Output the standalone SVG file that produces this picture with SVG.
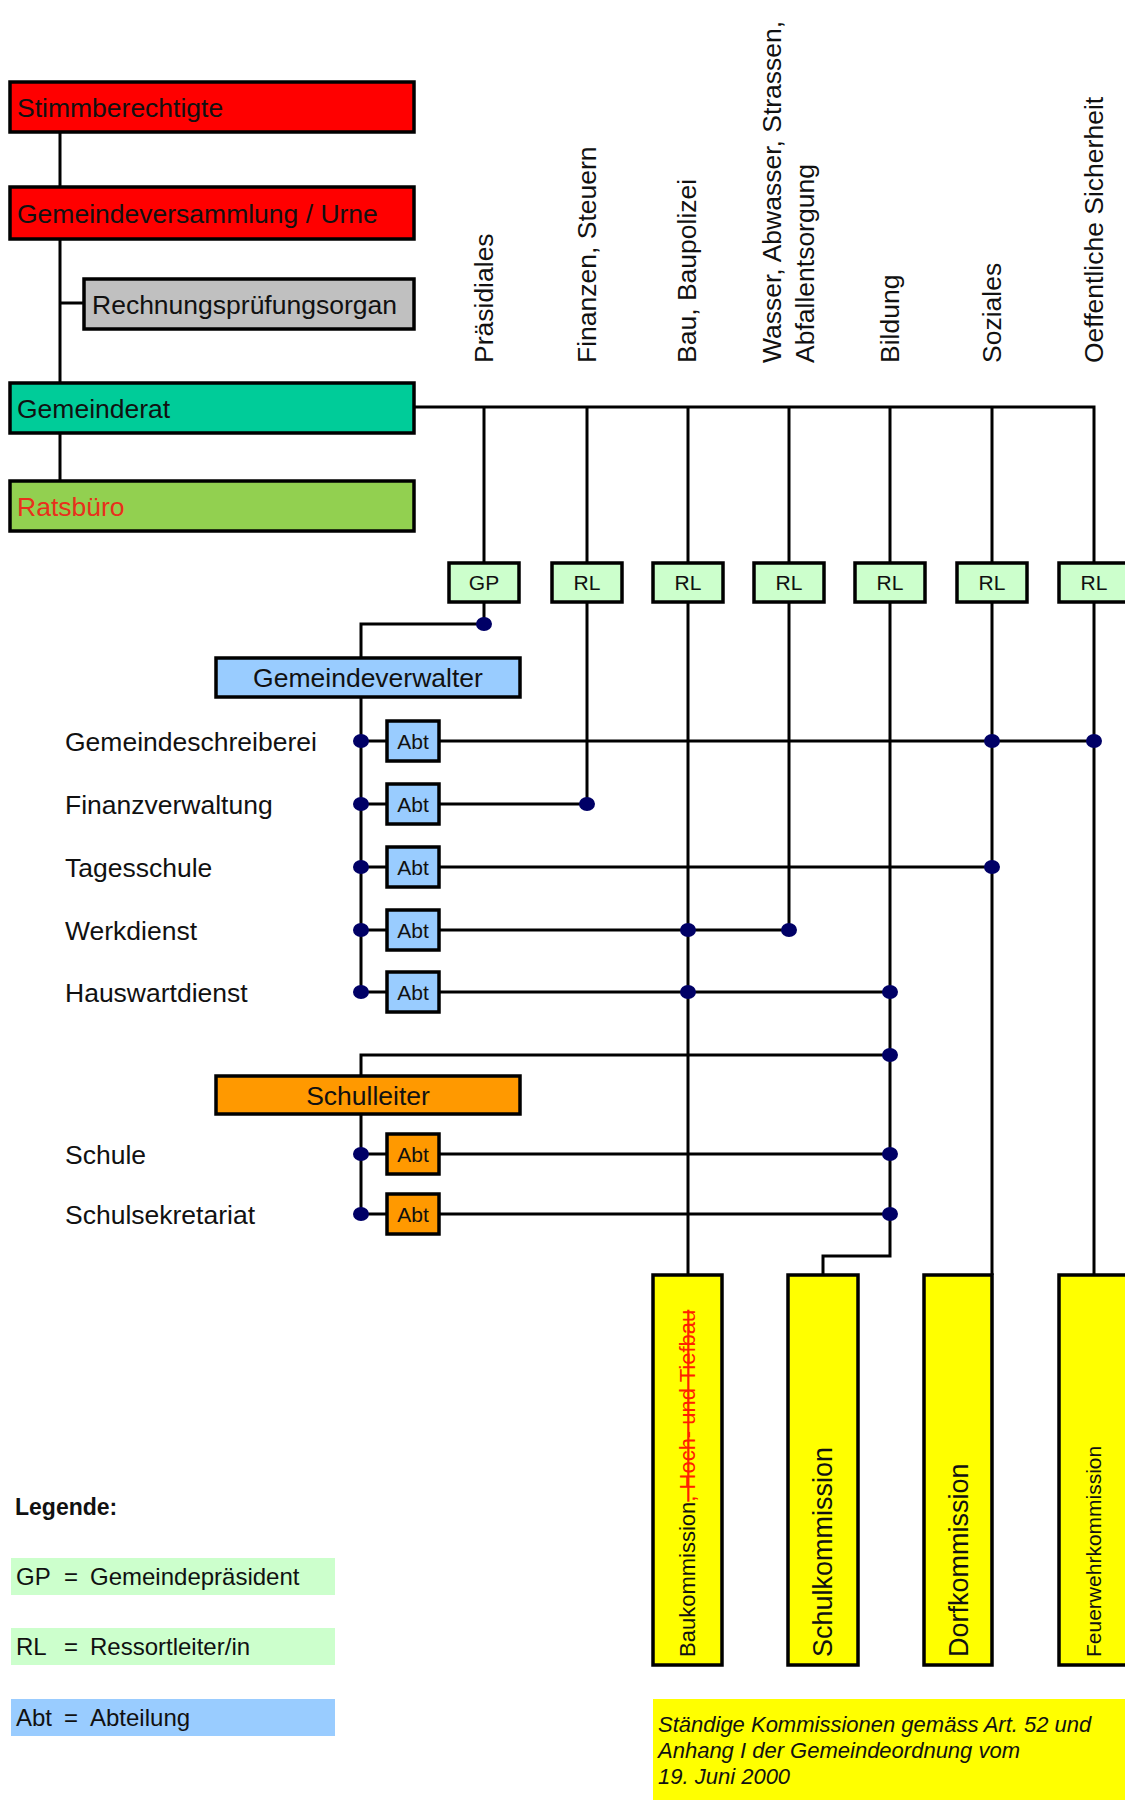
<svg xmlns="http://www.w3.org/2000/svg" width="1125" height="1800" viewBox="0 0 1125 1800">
<style>
.box{stroke:#000;stroke-width:3.5}
.ln{stroke:#000;stroke-width:3;fill:none}
.dot{fill:#000066}
text{font-family:"Liberation Sans",Arial,sans-serif;fill:#111}
.big{font-size:26.5px}
.sm{font-size:21px}
.mid{text-anchor:middle}
.red{fill:#ff0000}.gray{fill:#c0c0c0}.teal{fill:#00cc99}.lime{fill:#92d050}
.lg{fill:#ccffcc}.lb{fill:#99ccff}.or{fill:#ff9900}.ye{fill:#ffff00}
</style>
<rect width="1125" height="1800" fill="#fff"/>

<g id="connectors">
<path class="ln" d="M60 132V187M60 239V383M60 303H84M60 433V481"/>
<path class="ln" d="M414 407H1094V563M484 407V563M587 407V563M688 407V563M789 407V563M890 407V563M992 407V563"/>
<path class="ln" d="M484 602V624H361V658"/>
<path class="ln" d="M587 602V804M688 602V1275M789 602V930M890 602V1256H823V1275M992 602V1275M1094 602V1275"/>
<path class="ln" d="M361 697V992M361 1114V1214M890 1055H361V1076"/>
<path class="ln" d="M361 741H387M439 741H1094M361 804H387M439 804H587M361 867H387M439 867H992M361 930H387M439 930H789M361 992H387M439 992H890M361 1154H387M439 1154H890M361 1214H387M439 1214H890"/>
<g class="dot">
<ellipse cx="484" cy="624" rx="8" ry="7"/>
<ellipse cx="361" cy="741" rx="8" ry="7"/><ellipse cx="361" cy="804" rx="8" ry="7"/><ellipse cx="361" cy="867" rx="8" ry="7"/><ellipse cx="361" cy="930" rx="8" ry="7"/><ellipse cx="361" cy="992" rx="8" ry="7"/>
<ellipse cx="361" cy="1154" rx="8" ry="7"/><ellipse cx="361" cy="1214" rx="8" ry="7"/>
<ellipse cx="992" cy="741" rx="8" ry="7"/><ellipse cx="1094" cy="741" rx="8" ry="7"/>
<ellipse cx="587" cy="804" rx="8" ry="7"/>
<ellipse cx="992" cy="867" rx="8" ry="7"/>
<ellipse cx="688" cy="930" rx="8" ry="7"/><ellipse cx="789" cy="930" rx="8" ry="7"/>
<ellipse cx="688" cy="992" rx="8" ry="7"/><ellipse cx="890" cy="992" rx="8" ry="7"/>
<ellipse cx="890" cy="1055" rx="8" ry="7"/><ellipse cx="890" cy="1154" rx="8" ry="7"/><ellipse cx="890" cy="1214" rx="8" ry="7"/>
</g>
</g>

<g id="stimmberechtigte"><rect class="box red" x="10" y="82" width="404" height="50"/><text class="big" x="17" y="116.5">Stimmberechtigte</text></g>
<g id="gemeindeversammlung"><rect class="box red" x="10" y="187" width="404" height="52"/><text class="big" x="17" y="222.5">Gemeindeversammlung / Urne</text></g>
<g id="rechnungspruefung"><rect class="box gray" x="84" y="279" width="330" height="50"/><text class="big" x="92" y="313.5">Rechnungsprüfungsorgan</text></g>
<g id="gemeinderat"><rect class="box teal" x="10" y="383" width="404" height="50"/><text class="big" x="17" y="417.5">Gemeinderat</text></g>
<g id="ratsbuero"><rect class="box lime" x="10" y="481" width="404" height="50"/><text class="big" x="17" y="515.5" style="fill:#e8301c">Ratsbüro</text></g>

<g id="headers" class="big">
<text transform="translate(493,363) rotate(-90)">Präsidiales</text>
<text transform="translate(596,363) rotate(-90)">Finanzen, Steuern</text>
<text transform="translate(696,363) rotate(-90)">Bau, Baupolizei</text>
<text transform="translate(781,363) rotate(-90)">Wasser, Abwasser, Strassen,</text>
<text transform="translate(814,363) rotate(-90)">Abfallentsorgung</text>
<text transform="translate(899,363) rotate(-90)">Bildung</text>
<text transform="translate(1001,363) rotate(-90)">Soziales</text>
<text transform="translate(1103,363) rotate(-90)">Oeffentliche Sicherheit</text>
</g>

<g id="gp"><rect class="box lg" x="449" y="563" width="70" height="39"/><text class="sm mid" x="484" y="590">GP</text></g>
<g id="rl-finanzen"><rect class="box lg" x="552" y="563" width="70" height="39"/><text class="sm mid" x="587" y="590">RL</text></g>
<g id="rl-bau"><rect class="box lg" x="653" y="563" width="70" height="39"/><text class="sm mid" x="688" y="590">RL</text></g>
<g id="rl-wasser"><rect class="box lg" x="754" y="563" width="70" height="39"/><text class="sm mid" x="789" y="590">RL</text></g>
<g id="rl-bildung"><rect class="box lg" x="855" y="563" width="70" height="39"/><text class="sm mid" x="890" y="590">RL</text></g>
<g id="rl-soziales"><rect class="box lg" x="957" y="563" width="70" height="39"/><text class="sm mid" x="992" y="590">RL</text></g>
<g id="rl-sicherheit"><rect class="box lg" x="1059" y="563" width="70" height="39"/><text class="sm mid" x="1094" y="590">RL</text></g>

<g id="gemeindeverwalter"><rect class="box lb" x="216" y="658" width="304" height="39"/><text class="big mid" x="368" y="687">Gemeindeverwalter</text></g>
<g id="abt-gemeindeschreiberei"><text class="big" x="65" y="750.5">Gemeindeschreiberei</text><rect class="box lb" x="387" y="721" width="52" height="40"/><text class="sm mid" x="413" y="748.5">Abt</text></g>
<g id="abt-finanzverwaltung"><text class="big" x="65" y="813.5">Finanzverwaltung</text><rect class="box lb" x="387" y="784" width="52" height="40"/><text class="sm mid" x="413" y="811.5">Abt</text></g>
<g id="abt-tagesschule"><text class="big" x="65" y="876.5">Tagesschule</text><rect class="box lb" x="387" y="847" width="52" height="40"/><text class="sm mid" x="413" y="874.5">Abt</text></g>
<g id="abt-werkdienst"><text class="big" x="65" y="939.5">Werkdienst</text><rect class="box lb" x="387" y="910" width="52" height="40"/><text class="sm mid" x="413" y="937.5">Abt</text></g>
<g id="abt-hauswartdienst"><text class="big" x="65" y="1001.5">Hauswartdienst</text><rect class="box lb" x="387" y="972" width="52" height="40"/><text class="sm mid" x="413" y="999.5">Abt</text></g>

<g id="schulleiter"><rect class="box or" x="216" y="1076" width="304" height="38"/><text class="big mid" x="368" y="1104.5">Schulleiter</text></g>
<g id="abt-schule"><text class="big" x="65" y="1163.5">Schule</text><rect class="box or" x="387" y="1134" width="52" height="40"/><text class="sm mid" x="413" y="1161.5">Abt</text></g>
<g id="abt-schulsekretariat"><text class="big" x="65" y="1223.5">Schulsekretariat</text><rect class="box or" x="387" y="1194" width="52" height="40"/><text class="sm mid" x="413" y="1221.5">Abt</text></g>

<g id="baukommission"><rect class="box ye" x="653" y="1275" width="69" height="390"/><text transform="translate(695,1657) rotate(-90)" style="font-size:22px">Baukommission<tspan style="fill:#ff2000;text-decoration:line-through">, Hoch- und Tiefbau</tspan></text></g>
<g id="schulkommission"><rect class="box ye" x="788" y="1275" width="70" height="390"/><text transform="translate(832,1657) rotate(-90)" style="font-size:27px">Schulkommission</text></g>
<g id="dorfkommission"><rect class="box ye" x="924" y="1275" width="68" height="390"/><text transform="translate(968,1657) rotate(-90)" style="font-size:27px">Dorfkommission</text></g>
<g id="feuerwehrkommission"><rect class="box ye" x="1059" y="1275" width="70" height="390"/><text transform="translate(1101,1657) rotate(-90)" style="font-size:21px">Feuerwehrkommission</text></g>

<g id="legende">
<text x="15" y="1515" style="font-size:23px;font-weight:bold">Legende:</text>
<rect class="lg" x="11" y="1558" width="324" height="37"/>
<text style="font-size:24px" y="1585"><tspan x="16">GP</tspan><tspan x="64">=</tspan><tspan x="90">Gemeindepräsident</tspan></text>
<rect class="lg" x="11" y="1628" width="324" height="37"/>
<text style="font-size:24px" y="1655"><tspan x="16">RL</tspan><tspan x="64">=</tspan><tspan x="90">Ressortleiter/in</tspan></text>
<rect class="lb" x="11" y="1699" width="324" height="37"/>
<text style="font-size:24px" y="1726"><tspan x="16">Abt</tspan><tspan x="64">=</tspan><tspan x="90">Abteilung</tspan></text>
</g>

<g id="note">
<rect class="ye" x="653" y="1699" width="472" height="101"/>
<text style="font-size:22px;font-style:italic" x="658" y="1732">Ständige Kommissionen gemäss Art. 52 und</text>
<text style="font-size:22px;font-style:italic" x="658" y="1758">Anhang I der Gemeindeordnung vom</text>
<text style="font-size:22px;font-style:italic" x="658" y="1784">19. Juni 2000</text>
</g>
</svg>
